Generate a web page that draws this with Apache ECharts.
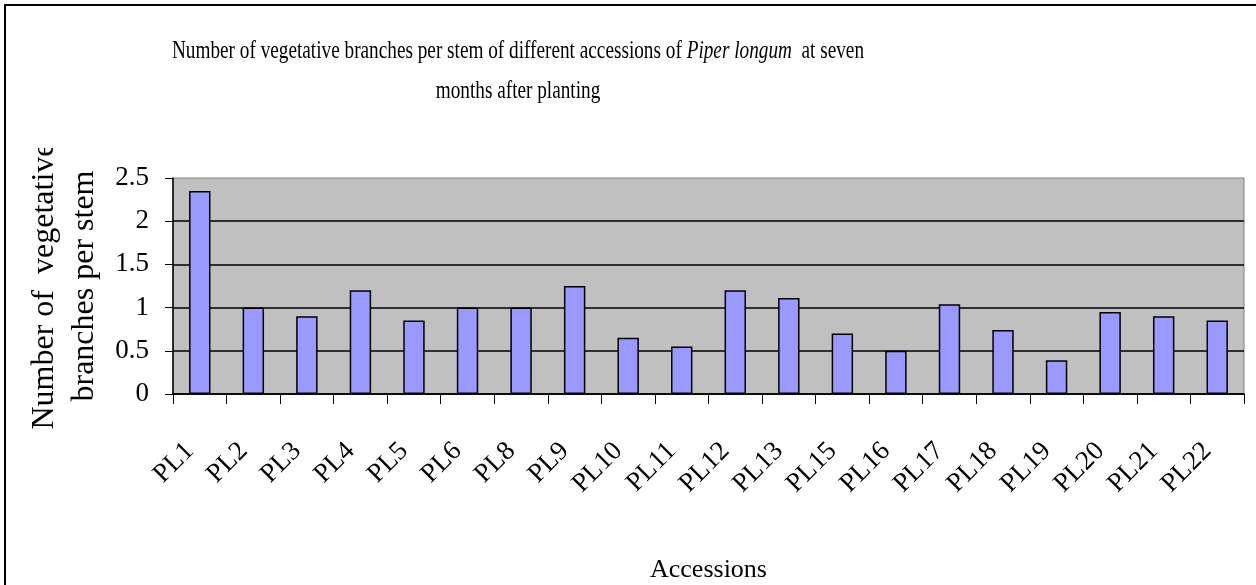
<!DOCTYPE html>
<html>
<head>
<meta charset="utf-8">
<script src="https://cdn.jsdelivr.net/npm/echarts@6/dist/echarts.min.js"></script>
<style>
  html, body { margin: 0; padding: 0; background: #fff; }
  #chart { width: 1256px; height: 585px; }
</style>
</head>
<body>
<div id="chart"></div>
<script>
var accessions = ["PL1", "PL2", "PL3", "PL4", "PL5", "PL6", "PL8", "PL9", "PL10", "PL11",
                  "PL12", "PL13", "PL15", "PL16", "PL17", "PL18", "PL19", "PL20", "PL21", "PL22"]
var branches = [2.35, 1.0, 0.9, 1.2, 0.85, 1.0, 1.0, 1.25, 0.65, 0.55,
                1.2, 1.11, 0.7, 0.5, 1.04, 0.74, 0.39, 0.95, 0.9, 0.85]
var yTicks = [0, 0.5, 1, 1.5, 2, 2.5]

var serif = "'Liberation Serif', 'Times New Roman', serif"

var chart = echarts.init(document.getElementById("chart"))
chart.setOption({
  animation: false,
  backgroundColor: "#fff",
  graphic: [
    {
      // outer frame, only left and top edges are visible
      type: "polyline",
      shape: { points: [[5, 590], [5, 5], [1260, 5]] },
      style: { stroke: "#000", lineWidth: 2, fill: null }
    },
    {
      // title is drawn narrow like in the original figure
      type: "text",
      x: 518,
      y: 31,
      scaleX: 0.74,
      style: {
        text: "{n|Number of vegetative branches per stem of different accessions of }{i|Piper longum}{n|  at seven}\n{n|months after planting}",
        align: "center",
        rich: {
          n: { fontFamily: serif, fontSize: 26, lineHeight: 40, fill: "#000" },
          i: { fontFamily: serif, fontSize: 26, lineHeight: 40, fontStyle: "italic", fill: "#000" }
        }
      }
    },
    {
      // the y axis title is cut off at the top in the original
      type: "rect",
      z: 100,
      shape: { x: 25, y: 100, width: 45, height: 48 },
      style: { fill: "#fff" }
    }
  ],
  grid: {
    left: 173,
    right: 12,
    top: 178,
    bottom: 191,
    outerBoundsMode: "none",
    show: true,
    backgroundColor: "#c0c0c0",
    borderColor: "#808080",
    borderWidth: 1
  },
  xAxis: {
    type: "category",
    data: accessions,
    boundaryGap: true,
    name: "Accessions",
    nameLocation: "middle",
    nameGap: 163,
    nameTextStyle: { fontFamily: serif, fontSize: 26, color: "#000" },
    axisLine: { lineStyle: { color: "#000", width: 1.5 } },
    axisTick: { show: true, length: 10, lineStyle: { color: "#000", width: 1 } },
    axisLabel: {
      rotate: 45,
      margin: 43,
      padding: [0, 14, 0, 0],
      interval: 0,
      fontFamily: serif,
      fontSize: 27,
      color: "#000"
    }
  },
  yAxis: {
    type: "value",
    min: yTicks[0],
    max: yTicks[yTicks.length - 1],
    interval: 0.5,
    name: "Number of  vegetative\nbranches per stem",
    nameLocation: "middle",
    nameRotate: 90,
    nameGap: 63,
    nameTextStyle: { fontFamily: serif, fontSize: 32, lineHeight: 40, color: "#000" },
    axisLine: { show: true, lineStyle: { color: "#000", width: 1.5 } },
    axisTick: { show: true, length: 8, lineStyle: { color: "#000", width: 1 } },
    axisLabel: {
      margin: 24,
      fontFamily: serif,
      fontSize: 27,
      color: "#000"
    },
    splitLine: { show: true, showMaxLine: false, lineStyle: { color: "#000", width: 1.5 } }
  },
  series: [
    {
      type: "bar",
      data: branches,
      barWidth: "40%",
      itemStyle: { color: "#9999ff", borderColor: "#000", borderWidth: 1.5 }
    }
  ]
})
</script>
</body>
</html>
